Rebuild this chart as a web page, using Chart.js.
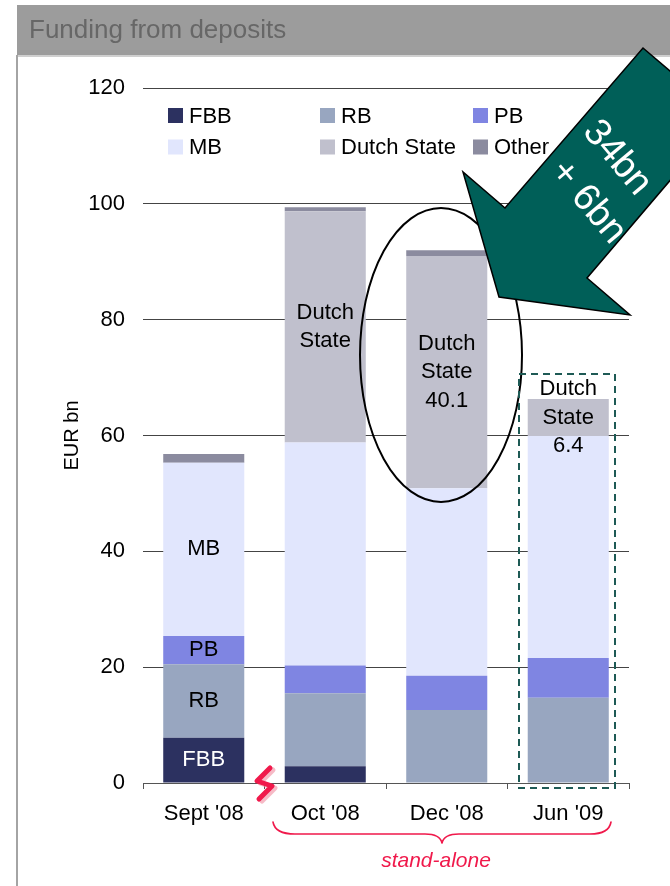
<!DOCTYPE html>
<html>
<head>
<meta charset="utf-8">
<script src="https://cdn.jsdelivr.net/npm/chart.js@4.4.1/dist/chart.umd.min.js"></script>
<style>
  html, body { margin: 0; padding: 0; background: #fff; }
  #wrap { width: 670px; height: 886px; }
</style>
</head>
<body>
<div id="wrap"><canvas id="c" width="670" height="886"></canvas></div>
<script>
// Deposit funding by business line, EUR bn
const categories = ["Sept '08", "Oct '08", "Dec '08", "Jun '09"];
const fbb        = [7.8, 2.9, 0, 0];
const rb         = [12.7, 12.6, 12.6, 14.7];
const pb         = [4.9, 4.8, 5.9, 6.9];
const mb         = [29.9, 38.5, 32.4, 38.3];
const dutchState = [0, 39.9, 40.1, 6.4];
const other      = [1.5, 0.7, 1.0, 0];
const yTicks     = [0, 20, 40, 60, 80, 100, 120];

const seriesNames  = ['FBB', 'RB', 'PB', 'MB', 'Dutch State', 'Other'];
const seriesColors = ['#2c3160', '#98a6c0', '#7f85e2', '#e1e6fd', '#c0c0cd', '#8b8b9f'];
const stateValueShown = [false, false, true, true];

const FONT = '"Liberation Sans", Arial, Helvetica, sans-serif';
const RED = '#f0194b';

// Slide frame: grey heading band and panel border
const framePlugin = {
  id: 'frame',
  beforeDraw(chart) {
    const ctx = chart.ctx;
    ctx.save();
    ctx.fillStyle = '#ffffff';
    ctx.fillRect(0, 0, chart.width, chart.height);
    ctx.fillStyle = '#9c9c9c';
    ctx.fillRect(17, 5, chart.width - 17, 50);
    ctx.fillStyle = '#cfcfcf';
    ctx.fillRect(17, 55, chart.width - 17, 2);
    ctx.fillStyle = '#a4a4a4';
    ctx.fillRect(16, 55, 2, chart.height - 55);
    ctx.fillStyle = '#676767';
    ctx.font = '26px ' + FONT;
    ctx.textAlign = 'left';
    ctx.textBaseline = 'middle';
    ctx.fillText('Funding from deposits', 29, 31);
    ctx.restore();
  }
};

// Labels written inside the stacked segments
const segmentLabelPlugin = {
  id: 'segmentLabels',
  afterDatasetsDraw(chart) {
    const ctx = chart.ctx;
    ctx.save();
    ctx.font = '22px ' + FONT;
    ctx.textAlign = 'center';
    ctx.textBaseline = 'middle';
    chart.data.datasets.forEach((ds, i) => {
      const meta = chart.getDatasetMeta(i);
      meta.data.forEach((bar, j) => {
        const v = ds.data[j];
        if (!v) return;
        let lines = [];
        if (i < 4 && j === 0) lines = [ds.label];
        if (ds.label === 'Dutch State') {
          lines = ['Dutch', 'State'];
          if (stateValueShown[j]) lines.push(v.toFixed(1));
        }
        if (!lines.length) return;
        const p = bar.getProps(['x', 'y', 'base'], true);
        const cy = (p.y + p.base) / 2;
        const lh = 28.5;
        ctx.fillStyle = i === 0 ? '#ffffff' : '#000000';
        lines.forEach((t, k) => {
          ctx.fillText(t, p.x, cy + (k - (lines.length - 1) / 2) * lh);
        });
      });
    });
    ctx.restore();
  }
};

// Legend laid out in a 3-column grid inside the plot
const gridLegendPlugin = {
  id: 'gridLegend',
  afterDraw(chart) {
    const ctx = chart.ctx;
    const cols = [168, 320, 473];
    const rows = [115.5, 147];
    ctx.save();
    ctx.font = '22px ' + FONT;
    ctx.textAlign = 'left';
    ctx.textBaseline = 'middle';
    chart.data.datasets.forEach((ds, i) => {
      const x = cols[i % 3];
      const y = rows[Math.floor(i / 3)];
      ctx.fillStyle = ds.backgroundColor;
      ctx.fillRect(x, y - 7.5, 15, 15);
      ctx.fillStyle = '#000';
      ctx.fillText(ds.label, x + 21, y + 1);
    });
    ctx.restore();
  }
};

// Annotations: ellipse, dashed box, arrow, break mark, brace
const annotationPlugin = {
  id: 'annotations',
  afterDraw(chart) {
    const ctx = chart.ctx;
    ctx.save();

    // ellipse round the Dec '08 state segment
    ctx.strokeStyle = '#000';
    ctx.lineWidth = 2;
    ctx.beginPath();
    ctx.ellipse(441, 355, 81, 147, 0, 0, Math.PI * 2);
    ctx.stroke();

    // dashed box round Jun '09
    ctx.strokeStyle = '#1e5a55';
    ctx.lineWidth = 2;
    ctx.setLineDash([7, 5]);
    ctx.strokeRect(519, 374, 96, 414);
    ctx.setLineDash([]);

    // block arrow
    ctx.beginPath();
    ctx.moveTo(643, 48);
    ctx.lineTo(690, 88);
    ctx.lineTo(690, 157);
    ctx.lineTo(587, 278);
    ctx.lineTo(630, 315);
    ctx.lineTo(499, 297);
    ctx.lineTo(463, 172);
    ctx.lineTo(505, 208);
    ctx.closePath();
    ctx.fillStyle = '#005f58';
    ctx.fill();
    ctx.strokeStyle = '#000';
    ctx.lineWidth = 1.5;
    ctx.stroke();

    ctx.fillStyle = '#ffffff';
    ctx.font = '38px ' + FONT;
    ctx.textAlign = 'center';
    ctx.textBaseline = 'middle';
    [['34bn', 617, 158], ['+ 6bn', 588, 202]].forEach(([t, x, y]) => {
      ctx.save();
      ctx.translate(x, y);
      ctx.rotate(50 * Math.PI / 180);
      ctx.fillText(t, 0, 0);
      ctx.restore();
    });

    // break mark between Sept and Oct
    const bolt = [[270, 768], [257, 781], [272, 786], [259, 799]];
    const drawBolt = (dx, dy, col, w) => {
      ctx.beginPath();
      bolt.forEach(([x, y], k) => k ? ctx.lineTo(x + dx, y + dy) : ctx.moveTo(x + dx, y + dy));
      ctx.strokeStyle = col;
      ctx.lineWidth = w;
      ctx.lineJoin = 'round';
      ctx.lineCap = 'round';
      ctx.stroke();
    };
    drawBolt(3, 2, 'rgba(240,140,160,0.6)', 5);
    drawBolt(0, 0, RED, 5);

    // brace under the stand-alone periods
    ctx.beginPath();
    ctx.moveTo(273, 822);
    ctx.quadraticCurveTo(275, 834, 295, 834);
    ctx.lineTo(425, 834);
    ctx.quadraticCurveTo(440, 834, 442, 843);
    ctx.quadraticCurveTo(444, 834, 459, 834);
    ctx.lineTo(590, 834);
    ctx.quadraticCurveTo(609, 834, 611, 822);
    ctx.strokeStyle = RED;
    ctx.lineWidth = 1.6;
    ctx.stroke();

    ctx.fillStyle = RED;
    ctx.font = 'italic 21px ' + FONT;
    ctx.textAlign = 'center';
    ctx.textBaseline = 'middle';
    ctx.fillText('stand-alone', 436, 861);

    ctx.restore();
  }
};

const seriesData = [fbb, rb, pb, mb, dutchState, other];

new Chart(document.getElementById('c'), {
  type: 'bar',
  data: {
    labels: categories,
    datasets: seriesData.map((d, i) => ({
      label: seriesNames[i],
      data: d,
      backgroundColor: seriesColors[i],
      borderWidth: 0,
      categoryPercentage: 1.0,
      barPercentage: 0.667
    }))
  },
  options: {
    responsive: false,
    animation: false,
    devicePixelRatio: 1,
    layout: { padding: { top: 88, right: 41, left: 0, bottom: 0 } },
    plugins: {
      legend: { display: false },
      tooltip: { enabled: false }
    },
    scales: {
      x: {
        stacked: true,
        offset: true,
        grid: {
          display: true,
          drawOnChartArea: false,
          drawTicks: true,
          tickLength: 6,
          offset: true,
          color: '#555'
        },
        border: { display: true, color: '#555', width: 1 },
        ticks: { color: '#000', font: { family: FONT, size: 22 }, padding: 12, maxRotation: 0 },
        afterFit(scale) { scale.height = 103; }
      },
      y: {
        stacked: true,
        min: 0,
        max: 120,
        afterBuildTicks(scale) { scale.ticks = yTicks.map(v => ({ value: v })); },
        grid: { color: '#444', lineWidth: 1, drawTicks: false },
        border: { display: false },
        ticks: { color: '#000', font: { family: FONT, size: 22 }, padding: 18 },
        title: {
          display: true,
          text: 'EUR bn',
          color: '#000',
          font: { family: FONT, size: 20 },
          padding: { top: 60, bottom: 0 }
        },
        afterFit(scale) { scale.width = 143; }
      }
    }
  },
  plugins: [framePlugin, segmentLabelPlugin, gridLegendPlugin, annotationPlugin]
});
</script>
</body>
</html>
